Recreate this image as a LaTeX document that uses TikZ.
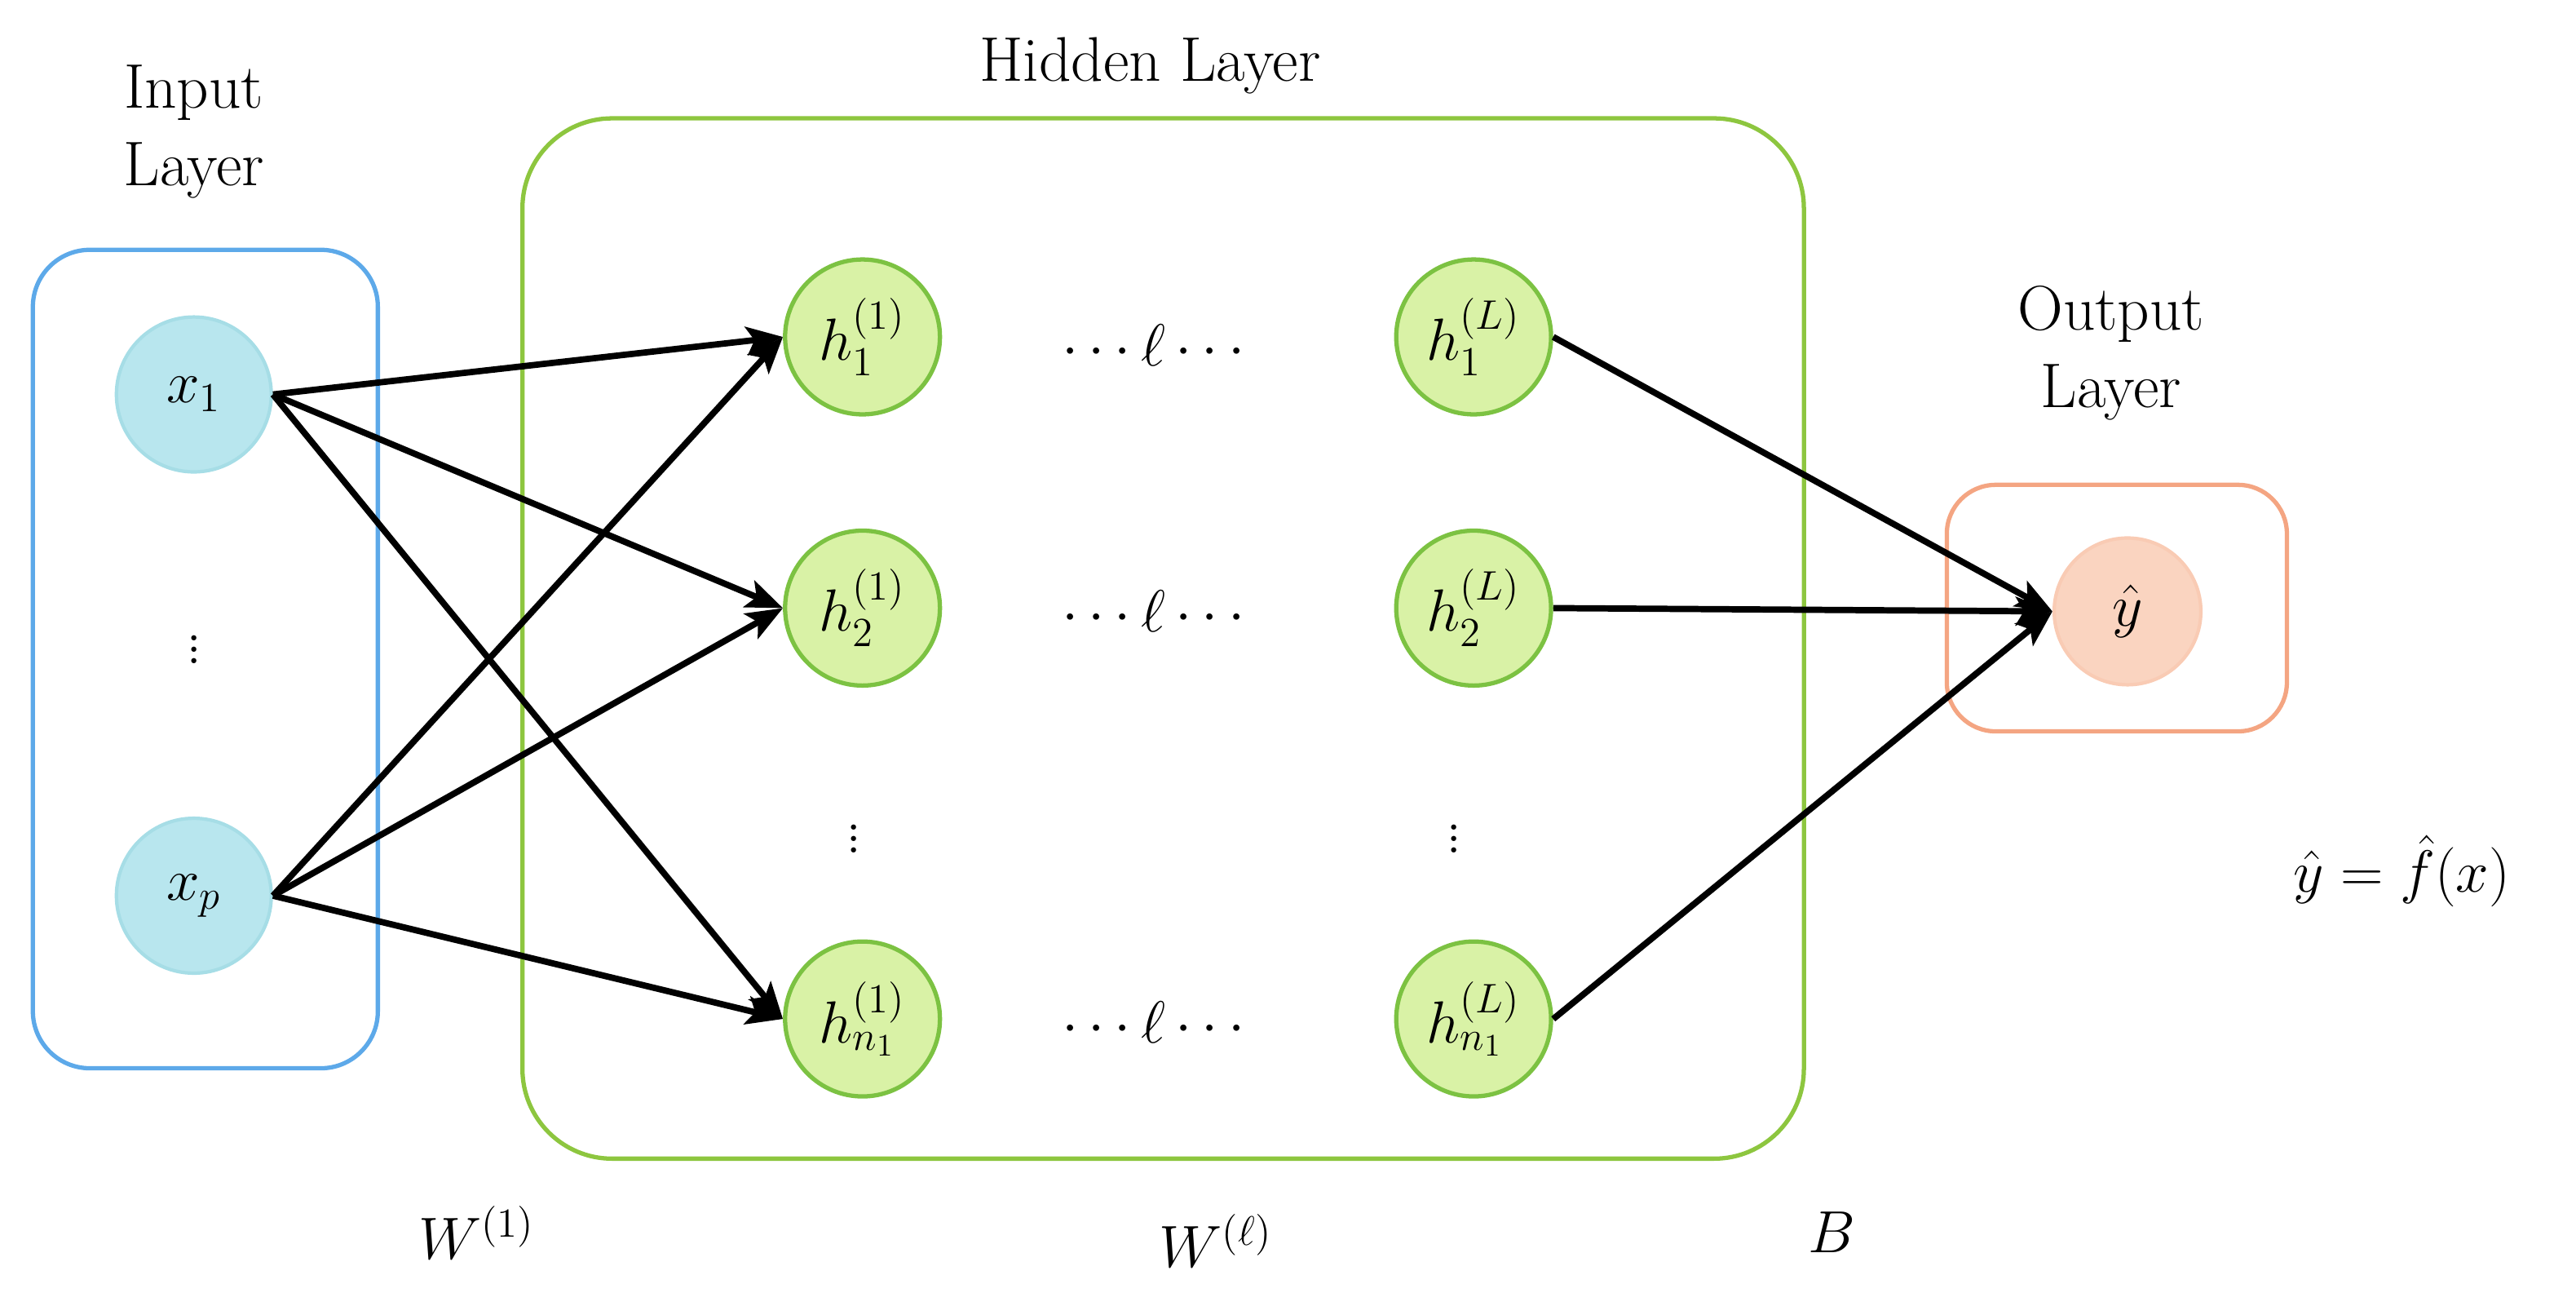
\documentclass[tikz,border=0pt]{standalone}
\usepackage{amsmath}
\usetikzlibrary{arrows.meta}
\definecolor{inblue}{HTML}{5DA9E9}
\definecolor{cyanfill}{HTML}{B8E6EE}
\definecolor{cyanline}{HTML}{A6DDE6}
\definecolor{hgreen}{HTML}{8DC63F}
\definecolor{gfill}{HTML}{D9F2A6}
\definecolor{gline}{HTML}{7CC242}
\definecolor{oline}{HTML}{F4A582}
\definecolor{ofill}{HTML}{FAD4C0}
\begin{document}
\begin{tikzpicture}[x=0.02015cm,y=-0.02015cm,
  every node/.style={font=\fontsize{22}{27}\selectfont},
  box/.style={rounded corners=0.7cm,line width=1.5pt},
  xn/.style={circle,minimum size=1.9cm,fill=cyanfill,draw=cyanline,line width=1.2pt,inner sep=0pt},
  hn/.style={circle,minimum size=1.9cm,fill=gfill,draw=gline,line width=1.5pt,inner sep=0pt},
  yn/.style={circle,minimum size=1.8cm,fill=ofill,draw=ofill!80!oline,line width=1.2pt,inner sep=0pt},
  arr/.style={-{Stealth[length=0.45cm,width=0.35cm,inset=0.1cm]},line width=2.2pt}]
\useasboundingbox (0,0) rectangle (1568,800);
\draw[box,inblue] (20,152) rectangle (230,650);
\draw[box,hgreen,rounded corners=1.1cm] (318,72) rectangle (1098,705);
\draw[box,oline,rounded corners=0.6cm] (1185,295) rectangle (1392,445);
\node[align=center] (tin) at (118,80) {Input\\Layer};
\node (thid) at (700,40) {Hidden Layer};
\node[align=center] (tout) at (1285,215) {Output\\Layer};
\node[xn] (x1) at (118,240) {$x_1$};
\node[xn] (xp) at (118,545) {$x_p$};
\node (xd) at (118,390) {$\vdots$};
\node[hn] (a1) at (525,205) {$h_1^{(1)}$};
\node[hn] (a2) at (525,370) {$h_2^{(1)}$};
\node[hn] (an) at (525,620) {$h_{n_1}^{(1)}$};
\node[hn] (b1) at (897,205) {$h_1^{(L)}$};
\node[hn] (b2) at (897,370) {$h_2^{(L)}$};
\node[hn] (bn) at (897,620) {$h_{n_1}^{(L)}$};
\node (d1) at (705,210) {$\cdots\ell\cdots$};
\node (d2) at (705,372) {$\cdots\ell\cdots$};
\node (d3) at (705,622) {$\cdots\ell\cdots$};
\node (v1) at (520,505) {$\vdots$};
\node (v2) at (885,505) {$\vdots$};
\node[yn] (y) at (1295,372) {$\hat y$};
\node (eq) at (1462,530) {$\hat y=\hat f(x)$};
\node (w1) at (290,750) {$W^{(1)}$};
\node (wl) at (740,755) {$W^{(\ell)}$};
\node (bb) at (1115,750) {$B$};
\foreach \s in {x1,xp}{\foreach \t in {a1,a2,an}{\draw[arr] (\s.east) -- (\t.west);}}
\foreach \s in {b1,b2,bn}{\draw[arr] (\s.east) -- (y.west);}
\end{tikzpicture}
\end{document}
